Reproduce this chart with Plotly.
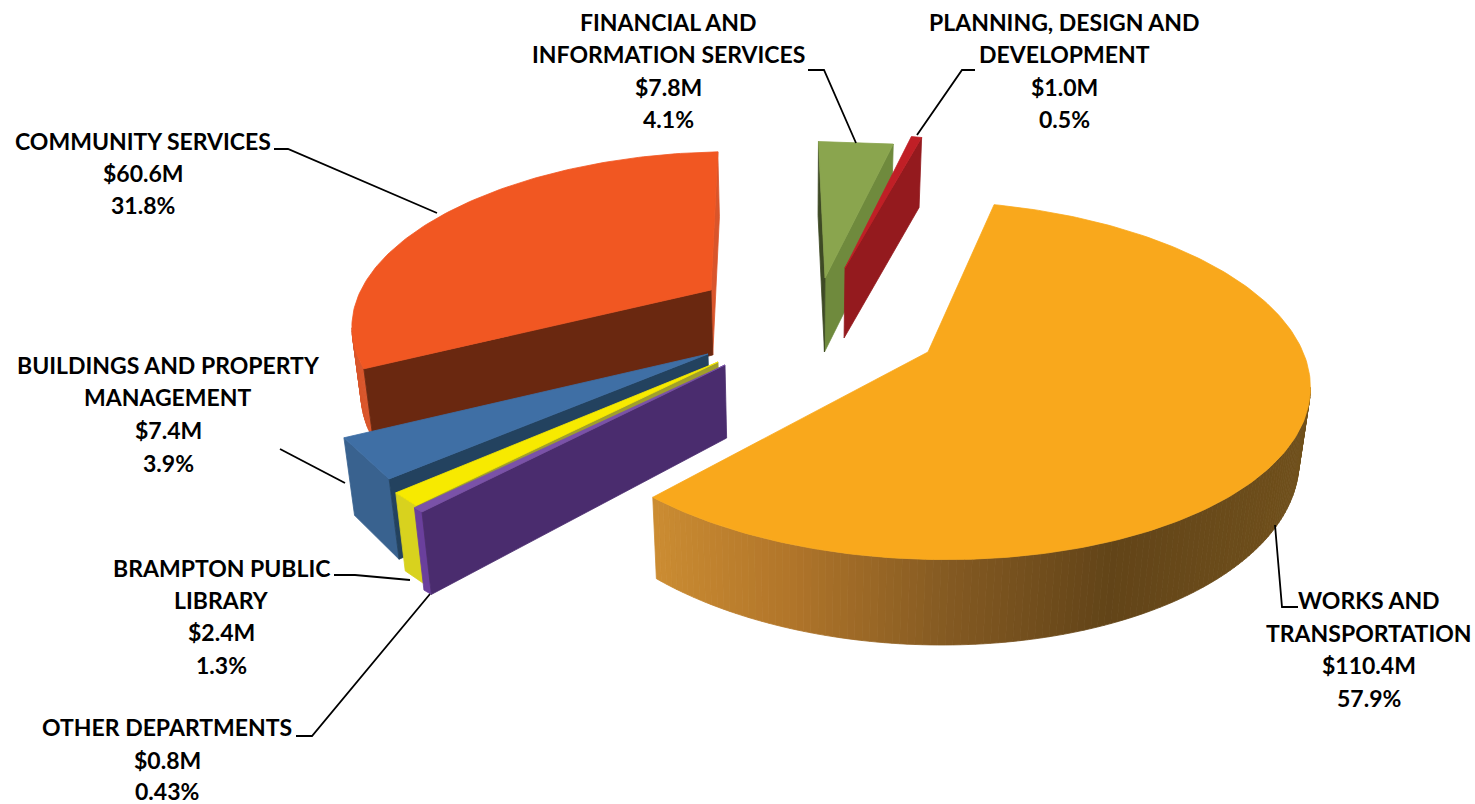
import math
import plotly.graph_objects as go

# Spending per department, in millions of dollars, clockwise from the top slice
departments = ["Works and Transportation", "Other Departments", "Brampton Public Library",
               "Buildings and Property Management", "Community Services",
               "Financial and Information Services", "Planning, Design and Development"]
amounts = [110.4, 0.8, 2.4, 7.4, 60.6, 7.8, 1.0]
first_slice_angle = 14.0

label_lines = [
    ["WORKS AND", "TRANSPORTATION", "$110.4M", "57.9%"],
    ["OTHER DEPARTMENTS", "$0.8M", "0.43%"],
    ["BRAMPTON PUBLIC", "LIBRARY", "$2.4M", "1.3%"],
    ["BUILDINGS AND PROPERTY", "MANAGEMENT", "$7.4M", "3.9%"],
    ["COMMUNITY SERVICES", "$60.6M", "31.8%"],
    ["FINANCIAL AND", "INFORMATION SERVICES", "$7.8M", "4.1%"],
    ["PLANNING, DESIGN AND", "DEVELOPMENT", "$1.0M", "0.5%"],
]
label_x = [1369, 167, 221, 168, 143, 668, 1064]
label_y = [[600, 633, 665, 698], [727, 760, 791], [568, 600, 632, 665],
           [365, 397, 430, 463], [141, 173, 205], [22, 54, 87, 119], [22, 54, 87, 119]]
leaders = [
    [(1298, 607), (1282, 607), (1275, 525)],
    [(296, 736), (312, 736), (430, 594)],
    [(334, 575), (355, 575), (410, 580)],
    [(280, 449), (345, 483)],
    [(274, 149), (288, 149), (437, 213)],
    [(808, 70), (824, 70), (856, 143)],
    [(975, 70), (962, 70), (917, 135)],
]

# Apex position, radii, skew and thickness of each exploded slice
apex = [(928, 352), (725, 365), (718, 362), (708, 354), (711, 290), (825, 278), (845, 268)]
radius_x = [375, 395, 384, 380, 350, 338, 365]
radius_y = [175, 177, 178, 170, 160, 158, 155]
skew = [-15, 0, 0, 0, 24, 8, 0]
thickness = [72, 73, 70, 72, 65, 74, 70]
perspective = 0.157
vanish_x = 800
converge = 0.0003

top_colors = ["#F9A81C", "#7A52A8", "#F7EA00", "#3F6FA5", "#F15722", "#8AA54E", "#C01F26"]
wall_colors = [None, "#6A3F9C", "#D8D21E", "#39628F", "#D9552B", "#8AA54E", "#C01F26"]
start_face = ["#F9A81C", "#4A2C6E", "#A09F2C", "#23425F", "#6A2810", "#3E4A25", "#941A1E"]
end_face = ["#F9A81C", "#7A52A8", "#D8D21E", "#39628F", "#D9552B", "#6F8A3D", "#941A1E"]
wall_ramp = [(0.0, (203, 140, 50)), (0.2, (178, 118, 42)), (0.45, (132, 90, 34)),
             (0.7, (98, 68, 24)), (1.0, (112, 80, 28))]


def lower(x, drop):
    # vertical edges lean towards a vanishing point below the pie
    return x + (vanish_x - x) * converge * drop


def project(i, angle, drop=0.0):
    a = math.radians(angle)
    x, y = math.sin(a), math.cos(a)
    w = 1 + perspective * y
    d = drop / min(w, 1.0)
    return (lower(apex[i][0] + (radius_x[i] * x + skew[i] * y) / w, d),
            apex[i][1] - radius_y[i] * y / w + d)


def project_apex(i, drop=0.0):
    return (lower(apex[i][0], drop), apex[i][1] + drop)


def ramp_color(t):
    for (t0, c0), (t1, c1) in zip(wall_ramp, wall_ramp[1:]):
        if t <= t1:
            f = (t - t0) / (t1 - t0)
            return "rgb(%d,%d,%d)" % tuple(round(p + (q - p) * f) for p, q in zip(c0, c1))
    return "rgb(%d,%d,%d)" % wall_ramp[-1][1]


def polygon(points, color):
    return go.Scatter(x=[p[0] for p in points] + [points[0][0]],
                      y=[p[1] for p in points] + [points[0][1]],
                      mode="lines", fill="toself", fillcolor=color,
                      line=dict(color=color, width=0.8),
                      hoverinfo="skip", showlegend=False)


def face_visible(p, q, c):
    if abs(q[0] - p[0]) < 1e-6:
        return True
    line_y = p[1] + (q[1] - p[1]) * (c[0] - p[0]) / (q[0] - p[0])
    return c[1] < line_y


def slice_traces(i, a0, a1):
    # narrow slices have a straight outer edge, wide ones a finely stepped arc
    steps = 1 if a1 - a0 < 20 else int(a1 - a0)
    angles = [a0 + (a1 - a0) * s / steps for s in range(steps + 1)]
    h = thickness[i]
    rim = [project(i, a) for a in angles]
    top = [project_apex(i)] + rim
    centre = (sum(p[0] for p in top) / len(top), sum(p[1] for p in top) / len(top))
    traces = []

    # outer wall, only where the rim runs right to left on screen
    xs = [p[0] for p in rim]
    lo, hi = min(xs), max(xs)
    for k in range(steps):
        p, q = rim[k], rim[k + 1]
        if q[0] >= p[0]:
            continue
        quad = [p, q, project(i, angles[k + 1], h), project(i, angles[k], h)]
        color = wall_colors[i] or ramp_color((0.5 * (p[0] + q[0]) - lo) / (hi - lo))
        traces.append(polygon(quad, color))

    # the two cut faces running in to the apex
    for angle, color in ((a1, end_face[i]), (a0, start_face[i])):
        edge = project(i, angle)
        if face_visible(project_apex(i), edge, centre):
            traces.append(polygon([project_apex(i), edge, project(i, angle, h),
                                   project_apex(i, h)], color))

    traces.append(polygon(top, top_colors[i]))
    return traces


total = sum(amounts)
spans = []
angle = first_slice_angle
for amount in amounts:
    spans.append((angle, angle + 360 * amount / total))
    angle = spans[-1][1]

fig = go.Figure()
for i in [4, 5, 6, 3, 2, 1, 0]:
    fig.add_traces(slice_traces(i, *spans[i]))

for path in leaders:
    fig.add_trace(go.Scatter(x=[p[0] for p in path], y=[p[1] for p in path], mode="lines",
                             line=dict(color="black", width=1.8),
                             hoverinfo="skip", showlegend=False))

for lines, cx, ys in zip(label_lines, label_x, label_y):
    for text, cy in zip(lines, ys):
        fig.add_annotation(x=cx, y=cy, text="<b>%s</b>" % text, showarrow=False,
                           xanchor="center", yanchor="middle",
                           font=dict(family="Lato", size=23, color="black"))

fig.update_layout(width=1475, height=804, margin=dict(l=0, r=0, t=0, b=0),
                  paper_bgcolor="white", plot_bgcolor="white",
                  xaxis=dict(range=[0, 1475], visible=False),
                  yaxis=dict(range=[804, 0], visible=False))
fig.write_html("out.html")
